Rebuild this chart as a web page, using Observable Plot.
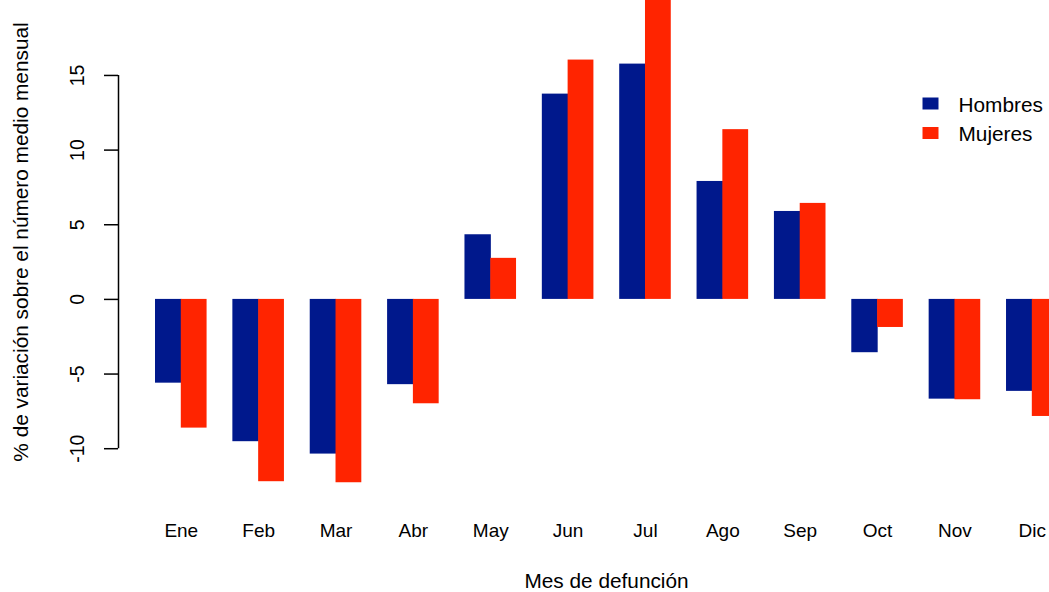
<!DOCTYPE html>
<html>
<head>
<meta charset="utf-8">
<script src="https://cdn.jsdelivr.net/npm/d3@7"></script>
<script src="https://cdn.jsdelivr.net/npm/@observablehq/plot@0.6"></script>
<style>
  html, body { margin: 0; padding: 0; background: white; overflow: hidden; }
</style>
</head>
<body>
<div id="chart"></div>
<script>
const meses = ["Ene","Feb","Mar","Abr","May","Jun","Jul","Ago","Sep","Oct","Nov","Dic"];
const hombres = [-5.61, -9.53, -10.36, -5.71, 4.33, 13.75, 15.76, 7.90, 5.89, -3.57, -6.68, -6.16];
const mujeres = [-8.62, -12.21, -12.28, -6.99, 2.75, 16.03, 20.6, 11.37, 6.43, -1.88, -6.72, -7.84];
const series = ["Hombres", "Mujeres"];
const colores = ["#00188C", "#FF2400"];
const yTicks = [-10, -5, 0, 5, 10, 15];
const yTitulo = "% de variación sobre el número medio mensual";
const xTitulo = "Mes de defunción";

const datosH = meses.map((m, i) => ({mes: m, valor: hombres[i]}));
const datosM = meses.map((m, i) => ({mes: m, valor: mujeres[i]}));

const W = 1049, H = 592, ML = 118, MB = 99;
const bandStart = 155, bandEnd = 1057.6;
const step = (bandEnd - bandStart) / (12 - 1/3);
const bw = step * 2 / 3;
const ff = "'Liberation Sans', Arial, Helvetica, sans-serif";

const rectSym = {draw(ctx, size) { ctx.rect(-8, -6, 16, 12); }};

const legendMarks = series.flatMap((s, i) => [
  Plot.dot([s], {frameAnchor: "top-left", dx: 930 - ML, dy: 103 + i * 29.5, fill: colores[i], stroke: null, symbol: rectSym, r: 8}),
  Plot.text([s], {text: d => d, frameAnchor: "top-left", dx: 958 - ML, dy: 111.7 + i * 29, textAnchor: "start", lineAnchor: "bottom", fontSize: 20.8, fill: "black"})
]);

const chart = Plot.plot({
  width: W, height: H,
  marginLeft: ML, marginRight: 0, marginTop: 0, marginBottom: MB,
  style: {fontFamily: ff, background: "white", color: "black"},
  x: {type: "band", domain: meses, range: [bandStart, bandEnd], paddingInner: 1/3, paddingOuter: 0, align: 0, round: false},
  y: {domain: [-13, 20.02]},
  marks: [
    Plot.barY(datosH, {x: "mes", y: "valor", fill: colores[0], insetRight: bw / 2 - 0.6, clip: true}),
    Plot.barY(datosM, {x: "mes", y: "valor", fill: colores[1], insetLeft: bw / 2, clip: true}),
    Plot.axisY({ticks: yTicks, tickFormat: d => String(d), tickSize: 14, tickPadding: 20.5, tickRotate: -90, fontSize: 19.5, label: null, strokeWidth: 1.5}),
    Plot.ruleX([yTicks], {x: null, y1: d => d3.min(d), y2: d => d3.max(d), dx: ML - (ML + W) / 2, strokeWidth: 1.5, stroke: "black"}),
    Plot.axisX({tickSize: 0, tickPadding: 30, fontSize: 19, label: null}),
    Plot.text([xTitulo], {text: d => d, frameAnchor: "bottom", dx: 606 - (ML + W) / 2, dy: 94.5, lineAnchor: "bottom", textAnchor: "middle", fontSize: 20.8, fill: "black"}),
    Plot.text([yTitulo], {text: d => d, frameAnchor: "left", rotate: -90, dx: 27.5 - ML, dy: 241.5 - (H - MB) / 2, lineAnchor: "bottom", textAnchor: "middle", fontSize: 20.8, fill: "black"}),
    ...legendMarks
  ]
});
document.getElementById("chart").appendChild(chart);
</script>
</body>
</html>
